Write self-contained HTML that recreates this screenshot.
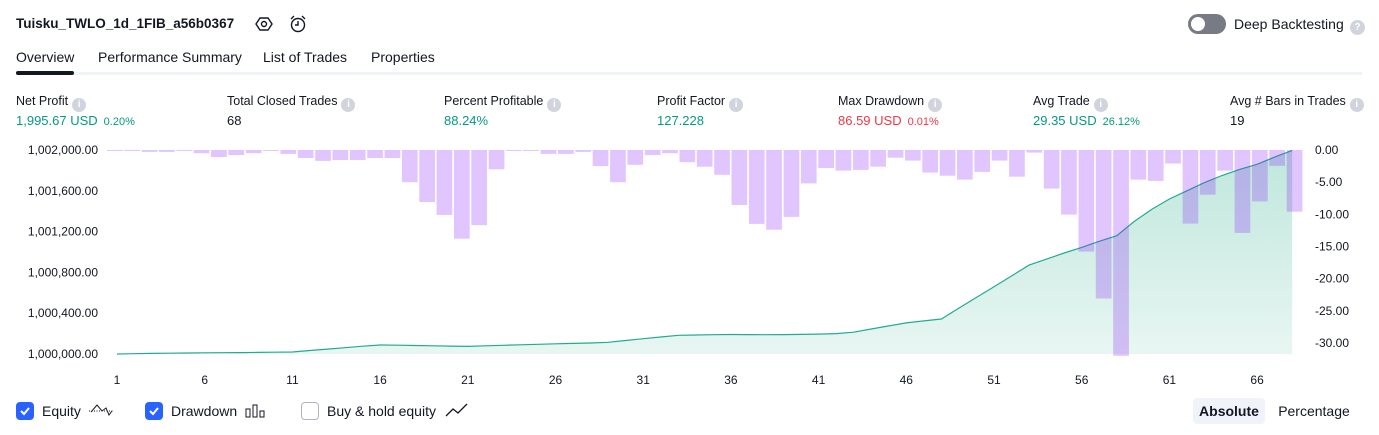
<!DOCTYPE html>
<html><head><meta charset="utf-8"><style>
body{margin:0;width:1379px;height:435px;background:#fff;font-family:"Liberation Sans",sans-serif;color:#131722;position:relative;overflow:hidden}
.a{position:absolute;white-space:nowrap}
.lbl{font-size:12.5px;top:94px}
.val{font-size:13px;top:113px}
.g{color:#089981}.r{color:#f23645}
.pct{font-size:11px;margin-left:6px}
.info{display:inline-block;width:14px;height:14px;border-radius:50%;background:#d1d4dc;color:#fff;font-size:10px;text-align:center;line-height:14px;vertical-align:-2px;margin-left:4px;font-weight:bold}
.tab{font-size:14px;top:49px}
.cb{position:absolute;top:402px;width:18px;height:18px;border-radius:4px}
.bl{font-size:14px;top:403px}
</style></head><body>
<div class="a" style="left:16px;top:16px;font-size:13.5px;font-weight:bold">Tuisku_TWLO_1d_1FIB_a56b0367</div>
<svg class="a" style="left:255px;top:15px" width="18" height="18"><polygon points="5,3 13,3 17,9 13,15 5,15 1,9" fill="none" stroke="#131722" stroke-width="1.4"/><circle cx="9" cy="9" r="2.5" fill="none" stroke="#131722" stroke-width="1.4"/></svg>
<svg class="a" style="left:288px;top:14px" width="20" height="20"><circle cx="10" cy="11" r="6.5" fill="none" stroke="#131722" stroke-width="1.4"/><path d="M10 7v4h-3M3 5l3-3M17 5l-3-3" fill="none" stroke="#131722" stroke-width="1.4"/></svg>
<div class="a" style="left:1188px;top:14px;width:38px;height:20px;border-radius:10px;background:#787b86"><div style="position:absolute;left:3px;top:3px;width:14px;height:14px;border-radius:50%;background:#fff"></div></div>
<div class="a" style="left:1234px;top:16px;font-size:14px">Deep Backtesting</div>
<div class="a" style="left:1346px;top:15px"><span class="info" style="width:15px;height:15px;line-height:15px;background:#d1d4dc">?</span></div>

<div class="a tab" style="left:16px">Overview</div>
<div class="a tab" style="left:98px">Performance Summary</div>
<div class="a tab" style="left:263px">List of Trades</div>
<div class="a tab" style="left:371px">Properties</div>
<div class="a" style="left:16px;top:72px;width:1346px;height:3px;background:#f0f3fa"></div>
<div class="a" style="left:16px;top:71px;width:58px;height:4px;border-radius:2px;background:#131722"></div>

<div class="a lbl" style="left:16px">Net Profit<span class="info">i</span></div>
<div class="a val g" style="left:16px">1,995.67 USD<span class="pct">0.20%</span></div>
<div class="a lbl" style="left:227px">Total Closed Trades<span class="info">i</span></div>
<div class="a val" style="left:227px">68</div>
<div class="a lbl" style="left:444px">Percent Profitable<span class="info">i</span></div>
<div class="a val g" style="left:444px">88.24%</div>
<div class="a lbl" style="left:657px">Profit Factor<span class="info">i</span></div>
<div class="a val g" style="left:657px">127.228</div>
<div class="a lbl" style="left:838px">Max Drawdown<span class="info">i</span></div>
<div class="a val r" style="left:838px">86.59 USD<span class="pct">0.01%</span></div>
<div class="a lbl" style="left:1033px">Avg Trade<span class="info">i</span></div>
<div class="a val g" style="left:1033px">29.35 USD<span class="pct">26.12%</span></div>
<div class="a lbl" style="left:1230px">Avg # Bars in Trades<span class="info">i</span></div>
<div class="a val" style="left:1230px">19</div>

<svg id="chart" class="a" style="left:0;top:0" width="1379" height="395"></svg>

<div class="cb" style="left:16px;background:#2962ff"><svg width="18" height="18"><path d="M5 9l3 3 5-6" fill="none" stroke="#fff" stroke-width="2"/></svg></div>
<div class="a bl" style="left:42px">Equity</div>
<svg class="a" style="left:88px;top:402px" width="26" height="16"><path d="M1 9h24" stroke="#131722" stroke-dasharray="1 1.5"/><path d="M3 10l6-7 5 6 4-3 3 7 3-4" fill="none" stroke="#131722"/></svg>
<div class="cb" style="left:145px;background:#2962ff"><svg width="18" height="18"><path d="M5 9l3 3 5-6" fill="none" stroke="#fff" stroke-width="2"/></svg></div>
<div class="a bl" style="left:171px">Drawdown</div>
<svg class="a" style="left:245px;top:403px" width="22" height="16"><rect x="1" y="6" width="4" height="8" fill="none" stroke="#131722"/><rect x="8" y="2" width="4" height="12" fill="none" stroke="#131722"/><rect x="15" y="8" width="4" height="6" fill="none" stroke="#131722"/></svg>
<div class="cb" style="left:301px;border:1.5px solid #b2b5be;box-sizing:border-box;width:18px"></div>
<div class="a bl" style="left:327px">Buy &amp; hold equity</div>
<svg class="a" style="left:445px;top:402px" width="24" height="16"><path d="M1 14l7-7 5 4 9-9" fill="none" stroke="#131722" stroke-width="1.3"/></svg>
<div class="a" style="left:1193px;top:398px;width:72px;height:26px;border-radius:4px;background:#f0f3fa;font-size:14px;font-weight:bold;text-align:center;line-height:26px">Absolute</div>
<div class="a" style="left:1272px;top:398px;width:84px;height:26px;font-size:14px;text-align:center;line-height:26px">Percentage</div>

<script>
const equity=[0,3,6,8,10,12,13,14,16,18,20,34,48,62,76,88,86,83,80,77,75,80,85,90,95,100,104,108,115,132,150,167,183,186,189,191,190,189,190,192,195,200,214,245,275,305,325,343,450,555,660,765,872,930,990,1045,1105,1160,1300,1420,1520,1600,1680,1750,1810,1860,1930,1996];
const drawdown=[0.15,0.15,0.3,0.3,0.15,0.5,1.1,0.8,0.5,0.15,0.6,1.25,1.7,1.55,1.55,1.25,1.25,5.0,8.1,10.1,13.8,11.7,3.0,0.15,0.15,0.6,0.6,0.3,2.5,5.0,2.3,0.8,0.5,1.9,2.6,3.85,8.55,11.5,12.4,10.4,5.2,2.8,3.2,3.1,2.6,1.2,1.65,3.5,4.0,4.6,3.4,1.65,4.15,0.4,6.0,10.05,15.8,23.1,32,4.6,4.8,2.1,11.45,6.95,3.2,12.9,8.0,2.45,9.6];
const leftTicks=["1,000,000.00","1,000,400.00","1,000,800.00","1,001,200.00","1,001,600.00","1,002,000.00"];
const leftTickVals=[0,400,800,1200,1600,2000];
const rightTickVals=[0,-5,-10,-15,-20,-25,-30];
const xTicks=[1,6,11,16,21,26,31,36,41,46,51,56,61,66];
const NS="http://www.w3.org/2000/svg";
const svg=document.getElementById('chart');
const yEq=v=>354-v*0.102;
const yDD=v=>150+v*6.43;
const xTrade=t=>117+(t-1)*17.54;
const slot=(1304-107)/drawdown.length;
const xBar=i=>107+i*slot;
function mk(tag,attrs){const e=document.createElementNS(NS,tag);for(const k in attrs)e.setAttribute(k,attrs[k]);svg.appendChild(e);return e;}
const defs=mk('defs',{});
defs.innerHTML='<linearGradient id="ag" x1="0" y1="0" x2="0" y2="1"><stop offset="0" stop-color="#bfe7dc"/><stop offset="1" stop-color="#e8f6f2"/></linearGradient>';
let pts=equity.map((v,i)=>xTrade(i+1).toFixed(1)+','+yEq(v).toFixed(1));
const area=mk('path',{d:'M'+xTrade(1)+','+yEq(0)+' L'+pts.join(' L')+' L'+xTrade(equity.length)+','+yEq(0)+'Z',fill:'url(#ag)'});


const line=mk('polyline',{points:pts.join(' '),fill:'none',stroke:'#22ab94','stroke-width':1.2});


drawdown.forEach((v,i)=>{
  const r=mk('rect',{x:xBar(i).toFixed(1),y:yDD(0),width:(slot-1.6).toFixed(1),height:(yDD(v)-yDD(0)).toFixed(1),fill:'rgba(140,30,250,0.26)'});
  
  
});
leftTickVals.forEach((v,i)=>{
  const t=mk('text',{x:98,y:yEq(v)+4,'text-anchor':'end','font-size':12,fill:'#131722','font-family':'Liberation Sans, sans-serif'});
  t.textContent=leftTicks[i];
  
  
});
rightTickVals.forEach(v=>{
  const t=mk('text',{x:1315,y:yDD(-v)+4,'font-size':12,fill:'#131722','font-family':'Liberation Sans, sans-serif'});
  t.textContent=v.toFixed(2);
  
  
});
xTicks.forEach(v=>{
  const t=mk('text',{x:xTrade(v),y:384,'text-anchor':'middle','font-size':12,fill:'#131722','font-family':'Liberation Sans, sans-serif'});
  t.textContent=v;
  
  
});
</script>
</body></html>
